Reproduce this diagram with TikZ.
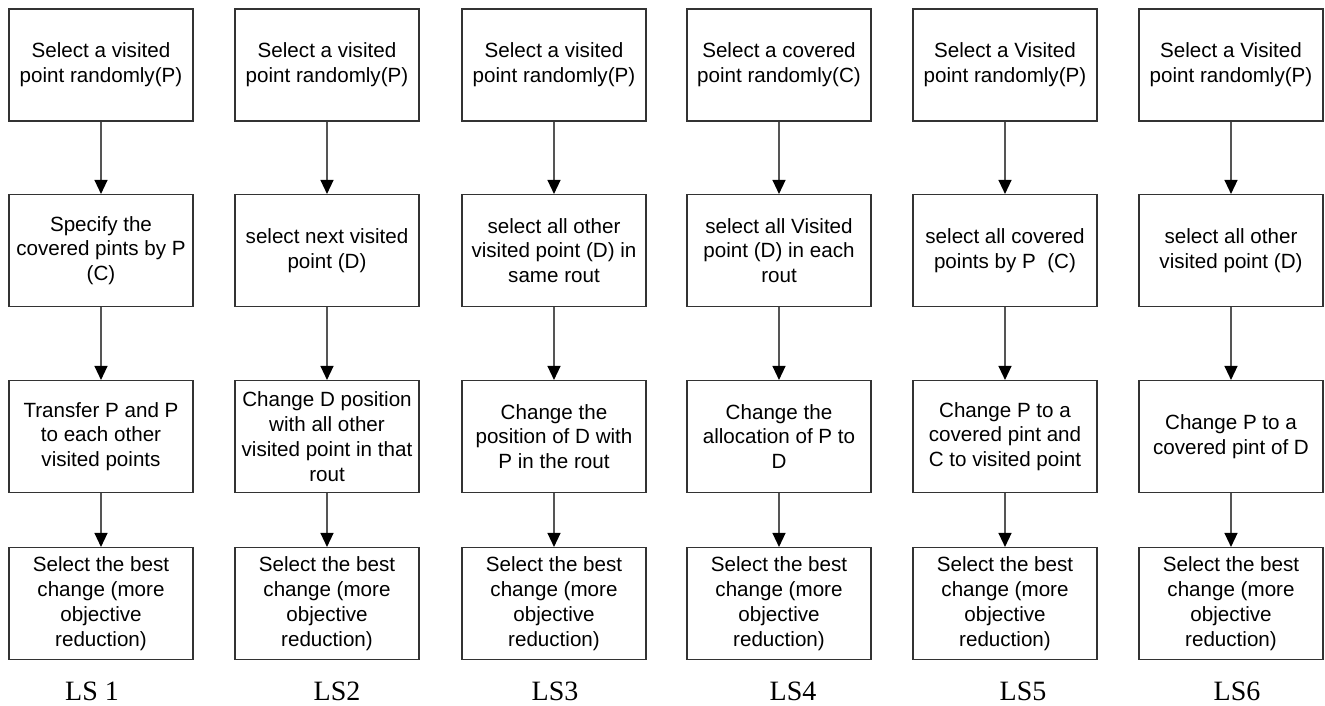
\documentclass[tikz,border=0pt]{standalone}
\usepackage{fontspec}
\setmainfont{Liberation Sans}
\newfontfamily\lsfont{Liberation Serif}
\usetikzlibrary{arrows.meta}
\definecolor{boxc}{HTML}{333333}
\definecolor{linec}{HTML}{555555}
\begin{document}
\begin{tikzpicture}[x=1pt,y=1pt,
  stepbox/.style={draw=boxc, line width=1.1pt, minimum width=184pt, minimum height=112pt, inner sep=0pt, align=center, font=\fontsize{20.6}{24.8}\selectfont},
  flow/.style={draw=linec, line width=1.3pt, -{Triangle[width=13pt,length=14pt,color=black]}},
  lslabel/.style={font=\lsfont\fontsize{28}{30}\selectfont, anchor=base, inner sep=0pt}]
\useasboundingbox (0,0) rectangle (1325,705);
% column 1
\node[stepbox] (r1c1) at (101,640) {Select a visited\\point randomly(P)};
\node[stepbox] (r2c1) at (101,454.5) {Specify the\\covered pints by P\\(C)};
\node[stepbox] (r3c1) at (101,268.5) {Transfer P and P\\to each other\\visited points};
\node[stepbox] (r4c1) at (101,101.5) {Select the best\\change (more\\objective\\reduction)};
% column 2
\node[stepbox] (r1c2) at (327,640) {Select a visited\\point randomly(P)};
\node[stepbox] (r2c2) at (327,454.5) {select next visited\\point (D)};
\node[stepbox] (r3c2) at (327,268.5) {Change D position\\with all other\\visited point in that\\rout};
\node[stepbox] (r4c2) at (327,101.5) {Select the best\\change (more\\objective\\reduction)};
% column 3
\node[stepbox] (r1c3) at (554,640) {Select a visited\\point randomly(P)};
\node[stepbox] (r2c3) at (554,454.5) {select all other\\visited point (D) in\\same rout};
\node[stepbox] (r3c3) at (554,268.5) {Change the\\position of D with\\P in the rout};
\node[stepbox] (r4c3) at (554,101.5) {Select the best\\change (more\\objective\\reduction)};
% column 4
\node[stepbox] (r1c4) at (779,640) {Select a covered\\point randomly(C)};
\node[stepbox] (r2c4) at (779,454.5) {select all Visited\\point (D) in each\\rout};
\node[stepbox] (r3c4) at (779,268.5) {Change the\\allocation of P to\\D};
\node[stepbox] (r4c4) at (779,101.5) {Select the best\\change (more\\objective\\reduction)};
% column 5
\node[stepbox] (r1c5) at (1005,640) {Select a Visited\\point randomly(P)};
\node[stepbox] (r2c5) at (1005,454.5) {select all covered\\points by P\ \ (C)};
\node[stepbox] (r3c5) at (1005,268.5) {Change P to a\\covered pint and\\C to visited point};
\node[stepbox] (r4c5) at (1005,101.5) {Select the best\\change (more\\objective\\reduction)};
% column 6
\node[stepbox] (r1c6) at (1231,640) {Select a Visited\\point randomly(P)};
\node[stepbox] (r2c6) at (1231,454.5) {select all other\\visited point (D)};
\node[stepbox] (r3c6) at (1231,268.5) {Change P to a\\covered pint of D};
\node[stepbox] (r4c6) at (1231,101.5) {Select the best\\change (more\\objective\\reduction)};
% arrows
\foreach \c in {1,...,6}{
  \draw[flow] (r1c\c) -- (r2c\c);
  \draw[flow] (r2c\c) -- (r3c\c);
  \draw[flow] (r3c\c) -- (r4c\c);
}
% labels
\node[lslabel] (ls1) at (92,4.5) {LS 1};
\node[lslabel] (ls2) at (337,4.5) {LS2};
\node[lslabel] (ls3) at (555,4.5) {LS3};
\node[lslabel] (ls4) at (793,4.5) {LS4};
\node[lslabel] (ls5) at (1023,4.5) {LS5};
\node[lslabel] (ls6) at (1237,4.5) {LS6};
\end{tikzpicture}
\end{document}
